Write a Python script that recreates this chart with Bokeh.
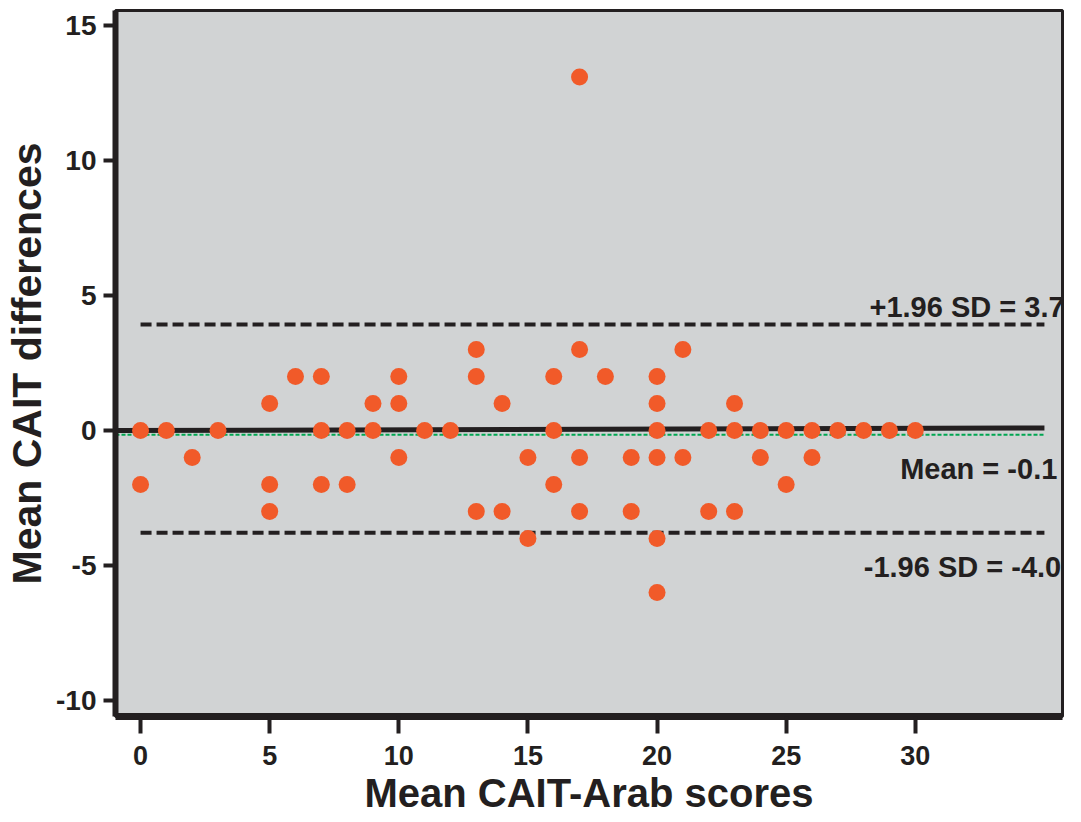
from bokeh.plotting import figure
from bokeh.models import Range1d, FixedTicker, Label
from bokeh.embed import file_html
from bokeh.resources import INLINE

# ---- data ----
x_means = [0, 0, 1, 2, 3,
           5, 5, 5, 6, 7, 7, 7, 8, 8, 9, 9,
           10, 10, 10, 11, 12, 13, 13, 13, 14, 14,
           15, 15, 16, 16, 16, 17, 17, 17, 17, 18,
           19, 19, 20, 20, 20, 20, 20, 20, 21, 21,
           22, 22, 23, 23, 23, 24, 24, 25, 25, 26, 26,
           27, 28, 29, 30]
y_diffs = [0, -2, 0, -1, 0,
           1, -2, -3, 2, 2, 0, -2, 0, -2, 1, 0,
           2, 1, -1, 0, 0, 3, 2, -3, 1, -3,
           -1, -4, 2, 0, -2, 13.1, 3, -1, -3, 2,
           -1, -3, 2, 1, 0, -1, -4, -6, 3, -1,
           0, -3, 1, 0, -3, 0, -1, 0, -2, 0, -1,
           0, 0, 0, 0]

x_ticks = [0, 5, 10, 15, 20, 25, 30]
y_ticks = [-10, -5, 0, 5, 10, 15]
y_tick_labels = {-10: "-10", -5: "-5", 0: "0", 5: "5", 10: "10", 15: "15"}

upper_sd = 3.93          # drawn position of +1.96 SD line
lower_sd = -3.78         # drawn position of -1.96 SD line
mean_diff = -0.15        # green dotted mean line
fit_x = [-0.97, 35.0]    # black solid line
fit_y = [0.0, 0.1]
limit_x = [0, 35.0]

upper_text = "+1.96 SD = 3.7"
mean_text = "Mean = -0.1"
lower_text = "-1.96 SD = -4.0"

DARK = "#231F20"
ORANGE = "#F15A29"
GRAY = "#D1D3D4"
GREEN = "#00A651"
FONT = "Liberation Sans"

p = figure(width=1081, height=822, output_backend="svg", toolbar_location=None,
           x_range=Range1d(-0.97, 35.7), y_range=Range1d(-10.59, 15.56),
           min_border_left=115, min_border_right=19, min_border_top=10,
           min_border_bottom=106)

p.background_fill_color = GRAY
p.border_fill_color = "white"
p.outline_line_color = DARK
p.outline_line_width = 3
p.xgrid.visible = False
p.ygrid.visible = False

# lines
p.line(fit_x, fit_y, line_color=DARK, line_width=5)
p.line([fit_x[0], fit_x[1]], [mean_diff, mean_diff], line_color=GREEN,
       line_width=2, line_dash="4 2")
p.line(limit_x, [upper_sd, upper_sd], line_color=DARK, line_width=4, line_dash="11 5")
p.line(limit_x, [lower_sd, lower_sd], line_color=DARK, line_width=4, line_dash="11 5")

# points
p.scatter(x_means, y_diffs, size=17, fill_color=ORANGE, line_color=ORANGE,
          line_width=0)

# annotations
for txt, xx, yy in [(upper_text, 35.78, 4.56), (mean_text, 35.5, -1.44),
                    (lower_text, 35.65, -5.04)]:
    p.add_layout(Label(x=xx, y=yy, text=txt, text_align="right",
                       text_baseline="alphabetic", text_font=FONT,
                       text_font_style="bold", text_font_size="29px",
                       text_color=DARK))

# axes
for ax in (p.xaxis, p.yaxis):
    ax.axis_line_color = DARK
    ax.major_tick_line_color = DARK
    ax.major_tick_line_width = 4
    ax.major_tick_in = 0
    ax.minor_tick_line_color = None
    ax.major_label_text_font = FONT
    ax.major_label_text_font_style = "bold"
    ax.major_label_text_color = DARK
    ax.axis_label_text_font = FONT
    ax.axis_label_text_font_style = "bold"
    ax.axis_label_text_color = DARK

p.xaxis.axis_label_text_font_size = "40px"
p.yaxis.axis_label_text_font_size = "41px"
p.xaxis.ticker = FixedTicker(ticks=x_ticks)
p.yaxis.ticker = FixedTicker(ticks=y_ticks)
p.yaxis.major_label_overrides = y_tick_labels
p.xaxis.axis_line_width = 7
p.yaxis.axis_line_width = 6
p.xaxis.major_tick_out = 17
p.yaxis.major_tick_out = 12
p.xaxis.major_label_text_font_size = "27px"
p.yaxis.major_label_text_font_size = "28px"
p.xaxis.major_label_standoff = 12
p.yaxis.major_label_standoff = 7
p.xaxis.axis_label = "Mean CAIT-Arab scores"
p.yaxis.axis_label = "Mean CAIT differences"
p.xaxis.axis_label_standoff = 3
p.yaxis.axis_label_standoff = 3

open("out.html", "w").write(file_html(p, INLINE))
